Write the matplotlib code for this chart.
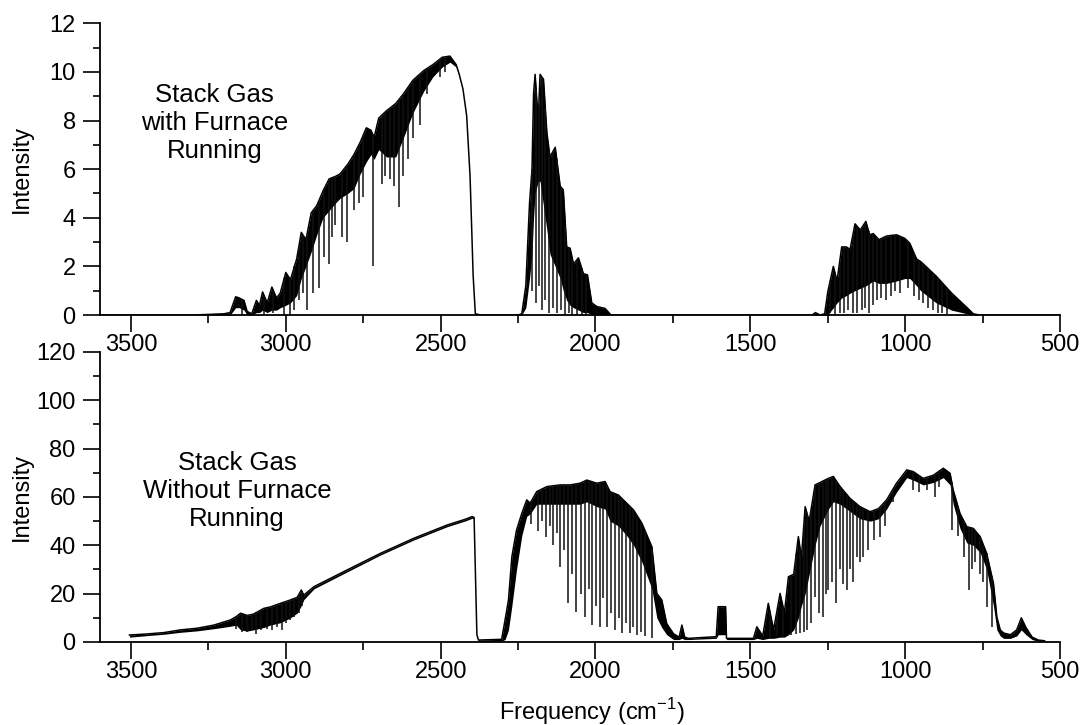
import numpy as np
import matplotlib.pyplot as plt
from matplotlib.ticker import MultipleLocator

plt.rcParams['font.family'] = ['Liberation Sans', 'DejaVu Sans']

# Stack gas with furnace running (frequency in cm-1, descending)
furnace_freq = [3600, 3300, 3200, 3180, 3162, 3150, 3135, 3125, 3110, 3095, 3085, 3075,
                3060, 3045, 3030, 3018, 3000, 2985, 2965, 2950, 2935, 2918, 2900, 2880,
                2860, 2840, 2825, 2800, 2780, 2760, 2740, 2725, 2715, 2700, 2675, 2645,
                2620, 2590, 2555, 2525, 2495, 2470, 2450, 2440, 2428, 2416, 2405, 2395,
                2388, 2370, 2250, 2238, 2225, 2213, 2205, 2200, 2195, 2185, 2179, 2168,
                2157, 2147, 2130, 2114, 2104, 2093, 2082, 2071, 2055, 2039, 2026, 2012,
                1996, 1969, 1950, 1300, 1290, 1275, 1260, 1250, 1232, 1220, 1205, 1190,
                1178, 1162, 1145, 1127, 1115, 1103, 1085, 1060, 1028, 1001, 985, 963,
                950, 900, 850, 800, 780, 760, 500]
# upper edge of the trace
furnace_top = [0, 0, 0.05, 0.1, 0.75, 0.7, 0.6, 0.15, 0.05, 0.6, 0.4, 0.95,
               0.5, 1.15, 0.7, 0.9, 1.75, 1.45, 2.3, 3.4, 3.1, 4.2, 4.5, 5.1,
               5.6, 5.7, 5.8, 6.2, 6.6, 7.1, 7.7, 7.6, 7.3, 8.1, 8.4, 8.7,
               9.1, 9.65, 10.05, 10.3, 10.6, 10.65, 10.3, 9.9, 9.3, 8.2, 5.7, 1.6,
               0.05, 0, 0, 0.05, 1.2, 4.6, 6.0, 9.1, 9.9, 8.0, 9.9, 9.7,
               7.5, 6.5, 6.9, 5.3, 5.15, 2.8, 2.75, 2.1, 2.35, 1.7, 1.65, 0.5,
               0.35, 0.27, 0, 0, 0.1, 0, 0.05, 0.95, 2.0, 1.4, 2.8, 2.8,
               2.7, 3.75, 3.5, 3.85, 3.3, 3.35, 3.1, 3.25, 3.3, 3.15, 2.95, 2.3,
               2.2, 1.6, 0.9, 0.3, 0.05, 0, 0]
# lower edge of the dense (solid black) part
furnace_floor = [0, 0, 0, 0, 0.3, 0.3, 0.2, 0, 0, 0.1, 0.1, 0.2,
                 0.1, 0.2, 0.2, 0.3, 0.4, 0.5, 0.8, 1.5, 2.0, 2.6, 3.3, 4.0,
                 4.3, 4.6, 4.8, 5.0, 5.2, 5.8, 6.3, 6.6, 6.4, 6.8, 6.5, 6.5,
                 7.3, 8.3, 9.2, 9.8, 10.2, 10.4, 10.2, 9.9, 9.3, 8.2, 5.7, 1.6,
                 0.05, 0, 0, 0, 0.3, 1.5, 2.5, 4.0, 5.0, 5.5, 5.5, 4.5,
                 3.5, 2.5, 2.0, 1.5, 1.0, 0.6, 0.4, 0.3, 0.2, 0.1, 0.1, 0,
                 0, 0, 0, 0, 0, 0, 0, 0, 0.3, 0.5, 0.7, 0.8,
                 0.9, 1.0, 1.1, 1.2, 1.3, 1.4, 1.3, 1.3, 1.4, 1.5, 1.5, 1.2,
                 1.0, 0.5, 0.2, 0.05, 0, 0, 0]
# single absorption lines: position and lowest value reached
furnace_line_freq = [3140, 3070, 3040, 3005, 2986, 2972, 2958, 2944, 2932, 2911, 2894,
                     2876, 2862, 2850, 2840, 2819, 2803, 2781, 2765, 2751, 2720, 2690,
                     2679, 2665, 2652, 2636, 2622, 2604, 2588, 2566, 2545, 2502, 2485,
                     2205, 2192, 2183, 2172, 2162, 2150, 2138, 2125, 2110, 2097, 2086,
                     2075, 2060, 2045, 2030,
                     1242, 1226, 1212, 1198, 1185, 1170, 1155, 1140, 1130, 1118, 1105,
                     1092, 1077, 1062, 1047, 1032, 1016, 992, 972, 957, 942, 926, 910,
                     895, 880, 866]
furnace_line_min = [0.0, 0.0, 0.1, 0.0, 0.0, 0.2, 0.6, 0.9, 0.2, 0.9, 1.1,
                    2.4, 2.1, 3.2, 3.7, 3.2, 3.0, 4.3, 4.6, 4.85, 2.0, 5.4,
                    5.7, 5.6, 5.3, 4.45, 5.7, 6.4, 7.3, 7.8, 9.1, 9.8, 10.0,
                    1.0, 0.5, 1.2, 0.2, 0.6, 0.1, 0.3, 0.1, 0.2, 0.0, 0.1,
                    0.0, 0.0, 0.0, 0.0,
                    0.1, 0.0, 0.1, 0.1, 0.2, 0.1, 0.1, 0.2, 0.3, 0.1, 0.4,
                    0.6, 0.7, 0.6, 0.8, 1.0, 0.9, 1.1, 0.8, 0.6, 0.5, 0.3, 0.2,
                    0.1, 0.1, 0.05]

# Stack gas without furnace running
ambient_freq = [3505, 3450, 3393, 3340, 3286, 3232, 3179, 3160, 3146, 3125, 3105, 3071,
                3050, 3017, 2985, 2963, 2950, 2942, 2909, 2802, 2694, 2587, 2479, 2420,
                2398, 2392, 2388, 2383, 2378, 2303, 2292, 2281, 2270, 2255, 2238, 2222,
                2211, 2190, 2157, 2114, 2082, 2050, 2028, 1996, 1969, 1953, 1926, 1899,
                1877, 1850, 1818, 1802, 1786, 1770, 1748, 1730, 1721, 1712, 1700, 1610,
                1604, 1580, 1577, 1490, 1479, 1460, 1442, 1425, 1404, 1390, 1377, 1360,
                1345, 1335, 1323, 1310, 1291, 1275, 1248, 1232, 1210, 1178, 1146, 1113,
                1086, 1060, 1028, 995, 974, 942, 909, 877, 855, 845, 823, 801,
                780, 758, 737, 715, 704, 693, 682, 660, 640, 625, 610, 590,
                570, 550]
ambient_top = [2.9, 3.3, 3.9, 5.0, 5.7, 7.0, 9.1, 10.5, 11.9, 11.0, 11.5, 13.9,
               14.5, 16.0, 17.4, 18.5, 21.5, 19.4, 22.9, 29.8, 36.7, 42.9, 48.4, 50.8,
               51.9, 51.5, 30.0, 3.0, 0.8, 1.1, 9.1, 17.4, 35.3, 46.3, 53.2, 58.8,
               57.4, 62.2, 64.3, 65.0, 65.0, 65.7, 67.0, 65.7, 66.4, 62.2, 60.8, 57.4,
               54.6, 49.1, 39.4, 20.1, 17.4, 7.6, 3.4, 2.0, 7.0, 2.0, 1.5, 2.2,
               14.6, 14.6, 1.5, 1.5, 6.3, 2.5, 16.0, 5.0, 20.1, 12.0, 27.0, 28.0,
               43.6, 35.0, 56.0, 50.0, 65.0, 66.0, 67.7, 68.5, 64.3, 59.4, 56.0, 53.9,
               55.2, 58.8, 65.7, 71.2, 70.5, 67.7, 69.0, 71.9, 69.8, 62.9, 53.2, 47.7,
               47.0, 43.6, 36.7, 24.3, 10.3, 5.0, 3.7, 3.0, 5.0, 10.0, 6.0, 2.0,
               0.8, 0.5]
ambient_floor = [2.0, 2.6, 3.2, 4.0, 4.6, 5.5, 6.5, 7.0, 5.0, 4.5, 5.0, 6.0,
                 7.0, 8.0, 10.0, 12.0, 15.0, 17.5, 22.0, 29.0, 36.0, 42.2, 47.7, 50.1,
                 51.2, 51.0, 30.0, 3.0, 0.2, 0.4, 1.0, 5.0, 15.0, 30.0, 44.0, 52.0,
                 53.0, 57.0, 57.0, 57.0, 57.0, 57.0, 58.0, 56.0, 55.0, 50.0, 48.0, 44.0,
                 40.0, 33.0, 22.0, 10.0, 6.0, 3.0, 1.0, 1.0, 1.5, 1.0, 1.0, 1.5,
                 3.0, 3.0, 1.0, 1.0, 1.5, 1.0, 1.5, 1.5, 2.0, 2.0, 3.0, 5.0,
                 10.0, 15.0, 20.0, 28.0, 40.0, 48.0, 55.0, 58.0, 57.0, 54.0, 51.0, 50.0,
                 51.0, 55.0, 62.0, 68.0, 67.0, 65.0, 66.0, 68.0, 65.0, 57.0, 47.0, 41.0,
                 40.0, 37.0, 30.0, 15.0, 5.0, 2.5, 1.5, 1.5, 2.5, 5.0, 3.0, 1.0,
                 0.3, 0.3]
ambient_line_freq = [3160, 3140, 3125, 3110, 3095, 3080, 3060, 3045, 3028, 3012, 2998,
                     2985, 2972, 2958, 2948,
                     2207, 2187, 2172, 2160, 2148, 2136, 2125, 2115, 2102, 2089, 2075,
                     2062, 2048, 2033, 2022, 2012, 1998, 1985, 1975, 1964, 1950, 1937,
                     1925, 1915, 1903, 1890, 1878, 1866, 1852, 1839, 1818,
                     1437, 1415, 1395, 1370, 1352, 1339, 1327, 1316, 1304, 1291, 1278,
                     1264, 1256, 1248, 1236, 1222, 1210, 1200, 1189, 1178, 1167, 1157,
                     1146, 1135, 1119, 1100, 1081, 1065, 1040, 975, 955, 930, 905,
                     890, 850, 830, 810, 795, 785, 773, 760, 748, 737, 720]
ambient_line_min = [5.5, 4.3, 4.3, 4.8, 3.5, 5.0, 5.5, 5.0, 6.3, 5.0, 8.0,
                    9.0, 10.5, 12.0, 15.0,
                    49, 46, 50, 43.6, 48, 40, 45, 31.2, 38, 16.0, 28,
                    12.6, 20, 10.3, 22, 7.0, 15, 6.4, 18, 6.4, 12, 5.0,
                    10, 3.7, 8, 3.7, 6, 3.0, 4, 2.3, 1.6,
                    1.5, 2.5, 2.0, 3.0, 3.5, 3.7, 4.0, 5.0, 8.0, 18.8, 12.0,
                    10.3, 20.0, 21.5, 25.0, 16.0, 30.0, 24.0, 21.5, 30.0, 25.0, 35.0,
                    33.1, 35.0, 38.0, 42.0, 43.6, 48.0, 58.0, 63.0, 62.0, 63.0, 60.0,
                    64.0, 46.3, 44.0, 35.0, 21.5, 30.0, 33.0, 28.0, 25.0, 14.6, 6.3]

x_major = [3500, 3000, 2500, 2000, 1500, 1000, 500]
x_minor = [3250, 2750, 2250, 1750, 1250, 750]

LABEL_SIZE = 17
NOTE_SIZE = 18.5


def draw_spectrum(ax, freq, top, floor, line_freq, line_min):
    freq = np.asarray(freq, float)
    top = np.asarray(top, float)
    ax.fill_between(freq, floor, top, color='black', lw=0)
    ax.plot(freq, top, color='black', lw=1.1)
    # absorption lines hang down from the upper trace
    line_top = np.interp(line_freq, freq[::-1], top[::-1])
    ax.vlines(line_freq, line_min, line_top, color='#111111', lw=1.1)


def style_axes(ax, ymax, ystep, yminor):
    ax.set_xlim(3600, 500)
    ax.set_ylim(0, ymax)
    for side in ['top', 'right']:
        ax.spines[side].set_visible(False)
    for side in ['left', 'bottom']:
        ax.spines[side].set_linewidth(1.3)
    ax.set_xticks(x_major)
    ax.set_xticks(x_minor, minor=True)
    ax.yaxis.set_major_locator(MultipleLocator(ystep))
    ax.yaxis.set_minor_locator(MultipleLocator(yminor))
    ax.tick_params(axis='x', which='major', direction='out', length=12, width=1.2,
                   pad=2, labelsize=LABEL_SIZE)
    ax.tick_params(axis='x', which='minor', direction='out', length=6, width=1.2)
    ax.tick_params(axis='y', which='major', direction='out', length=12.5, width=1.2,
                   pad=5, labelsize=LABEL_SIZE)
    ax.tick_params(axis='y', which='minor', direction='out', length=5, width=1.2)
    ax.set_ylabel('Intensity', fontsize=LABEL_SIZE)
    ax.yaxis.set_label_coords(-0.07, 0.5)


fig = plt.figure(figsize=(10.81, 7.25), dpi=100)
ax_top = fig.add_axes([0.0925, 0.5655, 0.8881, 0.4024])
ax_bot = fig.add_axes([0.0925, 0.1145, 0.8881, 0.4000])

draw_spectrum(ax_top, furnace_freq, furnace_top, furnace_floor,
              furnace_line_freq, furnace_line_min)
style_axes(ax_top, 12, 2, 1)
ax_top.text(3230, 7.9, 'Stack Gas\nwith Furnace\nRunning', ha='center', va='center',
            multialignment='center', fontsize=NOTE_SIZE)

draw_spectrum(ax_bot, ambient_freq, ambient_top, ambient_floor,
              ambient_line_freq, ambient_line_min)
style_axes(ax_bot, 120, 20, 10)
ax_bot.text(3157, 62.4, 'Stack Gas\nWithout Furnace\nRunning', ha='center', va='center',
            multialignment='center', fontsize=NOTE_SIZE)
ax_bot.set_xlabel('Frequency (cm$^{\\mathregular{-1}}$)', fontsize=LABEL_SIZE)
ax_bot.xaxis.set_label_coords(0.5125, -0.185)

fig.savefig('out.png', dpi=100, facecolor='white')
